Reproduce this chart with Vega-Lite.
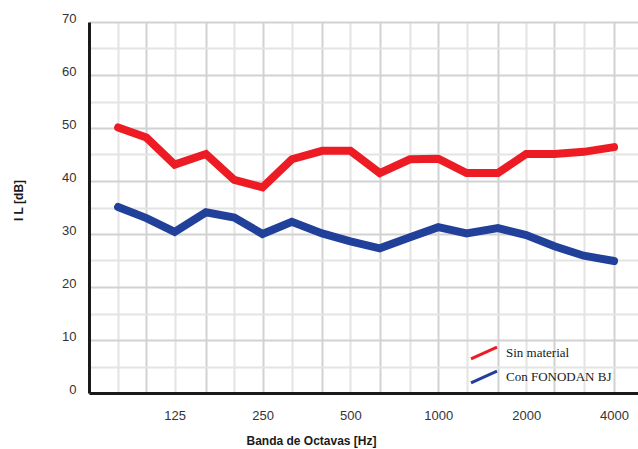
{
  "$schema": "https://vega.github.io/schema/vega-lite/v6.json",
  "width": 549,
  "height": 371,
  "autosize": "none",
  "padding": {"left": 89, "top": 22, "right": 0, "bottom": 56},
  "background": "white",
  "config": {"view": {"stroke": null}},
  "data": {"values": [
    {"f": 80, "s": "Sin material", "il": 50.1},
    {"f": 100, "s": "Sin material", "il": 48.2},
    {"f": 125, "s": "Sin material", "il": 43.1},
    {"f": 160, "s": "Sin material", "il": 45.1},
    {"f": 200, "s": "Sin material", "il": 40.2},
    {"f": 250, "s": "Sin material", "il": 38.8},
    {"f": 315, "s": "Sin material", "il": 44.1},
    {"f": 400, "s": "Sin material", "il": 45.7},
    {"f": 500, "s": "Sin material", "il": 45.7},
    {"f": 630, "s": "Sin material", "il": 41.5},
    {"f": 800, "s": "Sin material", "il": 44.1},
    {"f": 1000, "s": "Sin material", "il": 44.2},
    {"f": 1250, "s": "Sin material", "il": 41.5},
    {"f": 1600, "s": "Sin material", "il": 41.5},
    {"f": 2000, "s": "Sin material", "il": 45.1},
    {"f": 2500, "s": "Sin material", "il": 45.1},
    {"f": 3150, "s": "Sin material", "il": 45.5},
    {"f": 4000, "s": "Sin material", "il": 46.4},
    {"f": 80, "s": "Con FONODAN BJ", "il": 35.1},
    {"f": 100, "s": "Con FONODAN BJ", "il": 33.0},
    {"f": 125, "s": "Con FONODAN BJ", "il": 30.4},
    {"f": 160, "s": "Con FONODAN BJ", "il": 34.1},
    {"f": 200, "s": "Con FONODAN BJ", "il": 33.1},
    {"f": 250, "s": "Con FONODAN BJ", "il": 30.0},
    {"f": 315, "s": "Con FONODAN BJ", "il": 32.3},
    {"f": 400, "s": "Con FONODAN BJ", "il": 30.1},
    {"f": 500, "s": "Con FONODAN BJ", "il": 28.6},
    {"f": 630, "s": "Con FONODAN BJ", "il": 27.3},
    {"f": 800, "s": "Con FONODAN BJ", "il": 29.4},
    {"f": 1000, "s": "Con FONODAN BJ", "il": 31.3},
    {"f": 1250, "s": "Con FONODAN BJ", "il": 30.1},
    {"f": 1600, "s": "Con FONODAN BJ", "il": 31.1},
    {"f": 2000, "s": "Con FONODAN BJ", "il": 29.8},
    {"f": 2500, "s": "Con FONODAN BJ", "il": 27.7},
    {"f": 3150, "s": "Con FONODAN BJ", "il": 25.9},
    {"f": 4000, "s": "Con FONODAN BJ", "il": 24.9}
  ]},
  "mark": {"type": "line", "strokeWidth": 8, "strokeJoin": "miter", "strokeCap": "round"},
  "encoding": {
    "x": {
      "field": "f", "type": "quantitative",
      "scale": {"type": "log", "domain": [63.6, 4832], "nice": false},
      "axis": {
        "title": "Banda de Octavas [Hz]",
        "titleFont": "Liberation Sans", "titleFontSize": 12, "titleFontWeight": "bold", "titleColor": "#1a1a1a",
        "titleX": 222, "titleY": 47, "titleAlign": "center", "titleBaseline": "middle", "titleAnchor": null,
        "values": [80, 100, 125, 160, 200, 250, 315, 400, 500, 630, 800, 1000, 1250, 1600, 2000, 2500, 3150, 4000],
        "labelExpr": "indexof([125, 250, 500, 1000, 2000, 4000], datum.value) >= 0 ? datum.value : ''",
        "labelFont": "Liberation Sans Narrow, Liberation Sans", "labelFontSize": 13, "labelColor": "#333333",
        "labelPadding": 16, "labelFlush": false, "labelOverlap": false,
        "ticks": false,
        "domainColor": "#1a1a1a", "domainWidth": 3,
        "grid": true, "gridWidth": 2,
        "gridColor": {"condition": {"test": "indexof([100, 160, 250, 400, 630, 1000, 1600, 2500, 4000], datum.value) >= 0", "value": "#d2d2d2"}, "value": "#e4e4e4"}
      }
    },
    "y": {
      "field": "il", "type": "quantitative",
      "scale": {"domain": [0, 70], "nice": false},
      "axis": {
        "title": "I L [dB]",
        "titleFont": "Liberation Sans", "titleFontSize": 12, "titleFontWeight": "bold", "titleColor": "#1a1a1a",
        "titleX": -64, "titleY": 178, "titleAngle": -90, "titleAlign": "center", "titleBaseline": "bottom", "titleAnchor": null,
        "values": [0, 5, 10, 15, 20, 25, 30, 35, 40, 45, 50, 55, 60, 65, 70],
        "labelExpr": "datum.value % 10 == 0 ? datum.value : ''",
        "labelFont": "Liberation Sans Narrow, Liberation Sans", "labelFontSize": 13, "labelColor": "#333333",
        "labelPadding": 13, "labelOffset": -4, "labelFlush": false, "labelOverlap": false,
        "ticks": false,
        "domainColor": "#1a1a1a", "domainWidth": 3,
        "grid": true, "gridWidth": 2,
        "gridColor": {"condition": {"test": "datum.value % 10 == 0", "value": "#d2d2d2"}, "value": "#e4e4e4"}
      }
    },
    "color": {
      "field": "s", "type": "nominal",
      "scale": {"domain": ["Sin material", "Con FONODAN BJ"], "range": ["#ed1c24", "#21409a"]},
      "legend": {
        "title": null, "orient": "none", "legendX": 387, "legendY": 323,
        "padding": 0,
        "symbolType": "M-2,0.9L2,-0.9", "symbolSize": 169, "symbolStrokeWidth": 3,
        "labelFont": "Liberation Serif", "labelFontSize": 13, "labelColor": "#1a1a1a",
        "labelOffset": 14, "rowPadding": 0
      }
    }
  }
}
